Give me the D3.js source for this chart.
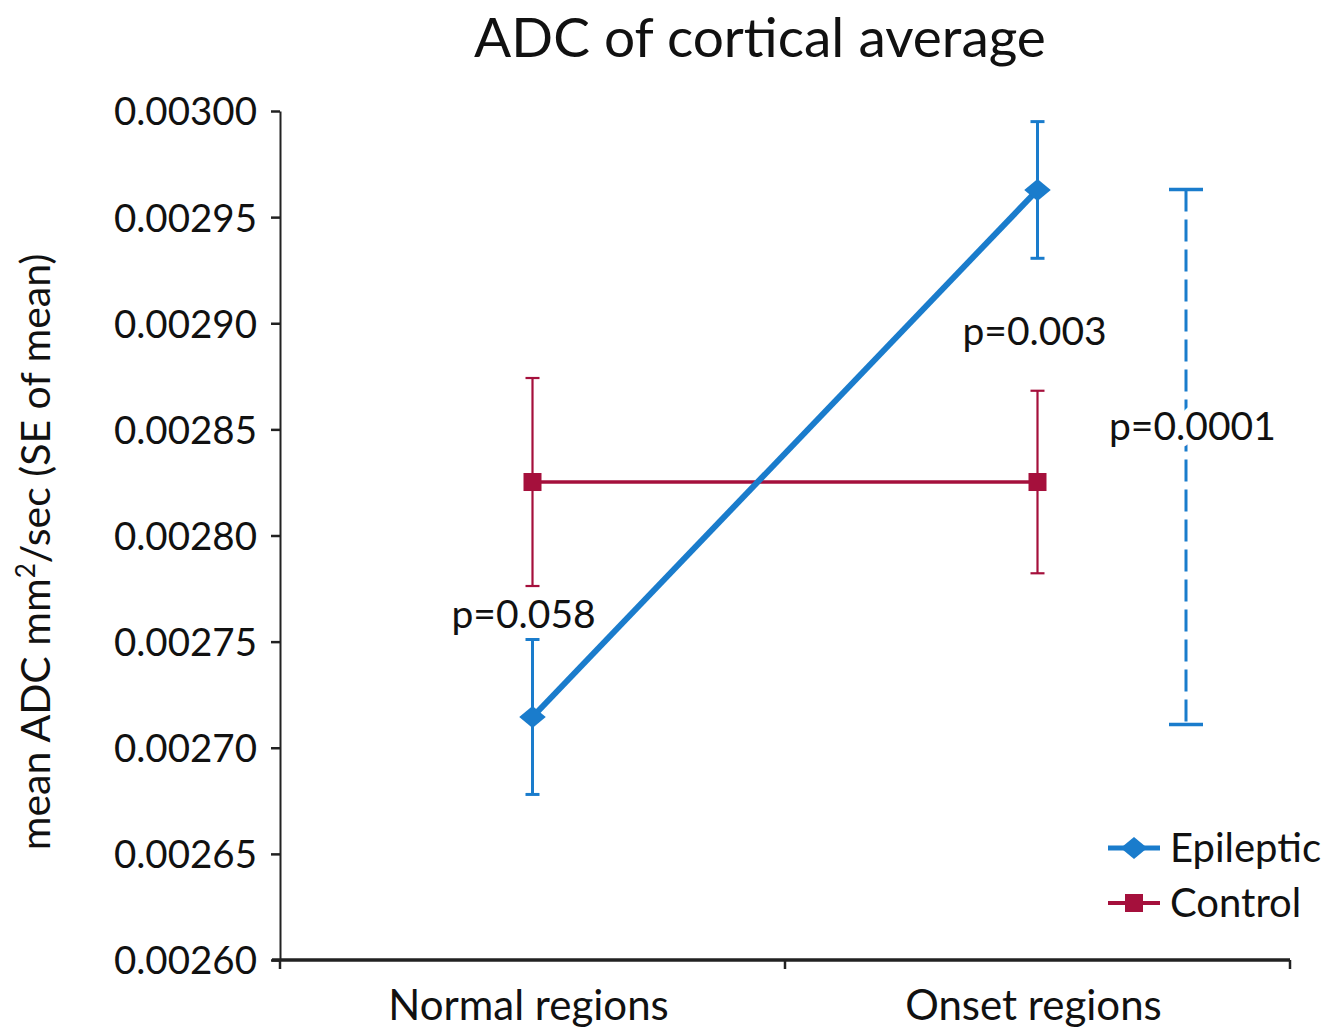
<!DOCTYPE html>
<html>
<head>
<meta charset="utf-8">
<script src="https://cdn.jsdelivr.net/npm/d3@7"></script>
<style>
  body { margin: 0; background: #fff; }
  text { font-family: Lato, "Open Sans", sans-serif; fill: #111; }
</style>
</head>
<body>
<svg id="svgChart" width="1339" height="1033"></svg>
<script>
// data
var categories = ["Normal regions", "Onset regions"];
var epilepticMean = [0.0027145, 0.0029628];
var epilepticSE = [0.0000365, 0.0000322];
var controlMean = [0.0028252, 0.0028252];
var controlSE = [0.0000490, 0.0000430];
var yTicks = [0.0026, 0.00265, 0.0027, 0.00275, 0.0028, 0.00285, 0.0029, 0.00295, 0.003];
var bracketRange = [0.002711, 0.002963];
var pLabels = ["p=0.058", "p=0.003", "p=0.0001"];
var seriesNames = ["Epileptic", "Control"];

var BLUE = "#1a7ccc";
var RED = "#a5103c";

var svg = d3.select("#svgChart");
var margin = {top: 111, right: 49, bottom: 73, left: 280};
var width = +svg.attr("width") - margin.left - margin.right;
var height = +svg.attr("height") - margin.top - margin.bottom;
var g = svg.append("g")
  .attr("transform", "translate(" + margin.left + "," + margin.top + ")");

// scales
var x = d3.scaleBand().domain(categories).range([0, width]);
var y = d3.scaleLinear().domain([0.0026, 0.003]).range([height, 0]);
function cx(i) { return x(categories[i]) + x.bandwidth() / 2; }

// y axis
var yAxis = d3.axisLeft(y).tickValues(yTicks)
  .tickFormat(d3.format(".5f")).tickSize(9).tickSizeOuter(0).tickPadding(14);
var gy = g.append("g").attr("class", "y axis").call(yAxis);
gy.select(".domain").attr("stroke", "#222").attr("stroke-width", 2);
gy.selectAll(".tick line").attr("stroke", "#222").attr("stroke-width", 2.5);
gy.selectAll(".tick text")
  .style("font-family", "Lato, sans-serif")
  .style("font-size", "38.5px").attr("fill", "#111").attr("dy", "0.36em");

// x axis: line with ticks at band edges
var gx = g.append("g").attr("class", "x axis")
  .attr("transform", "translate(0," + height + ")");
gx.append("line").attr("x1", -8).attr("x2", width)
  .attr("stroke", "#222").attr("stroke-width", 3.5);
var edges = categories.map(function(c) { return x(c); }).concat([width]);
gx.selectAll(".xtick").data(edges).enter().append("line")
  .attr("x1", function(d) { return d; }).attr("x2", function(d) { return d; })
  .attr("y1", 0).attr("y2", 9)
  .attr("stroke", "#222").attr("stroke-width", 2.5);
gx.selectAll(".xlabel").data(categories).enter().append("text")
  .attr("x", function(d, i) { return cx(i) - 4; })
  .attr("y", 60)
  .style("text-anchor", "middle")
  .style("font-size", "42px")
  .text(function(d) { return d; });

// title
svg.append("text")
  .attr("x", 760).attr("y", 57)
  .style("text-anchor", "middle").style("font-size", "55px")
  .text("ADC of cortical average");

// y axis label
var ylab = svg.append("text")
  .attr("transform", "translate(50,552) rotate(-90)")
  .style("text-anchor", "middle").style("font-size", "41px");
ylab.append("tspan").text("mean ADC mm");
ylab.append("tspan").attr("dy", -15).style("font-size", "26px").text("2");
ylab.append("tspan").attr("dy", 15).text("/sec (SE of mean)");

// error bars
function errorBars(means, se, color, sw) {
  var eb = g.append("g");
  means.forEach(function(m, i) {
    var px = cx(i);
    eb.append("line").attr("x1", px).attr("x2", px)
      .attr("y1", y(m - se[i])).attr("y2", y(m + se[i]))
      .attr("stroke", color).attr("stroke-width", sw);
    [m - se[i], m + se[i]].forEach(function(v) {
      eb.append("line").attr("x1", px - 7).attr("x2", px + 7)
        .attr("y1", y(v)).attr("y2", y(v))
        .attr("stroke", color).attr("stroke-width", sw);
    });
  });
}

var valueline = d3.line()
  .x(function(d, i) { return cx(i); })
  .y(function(d) { return y(d); });

// control series
errorBars(controlMean, controlSE, RED, 2.2);
g.append("path").attr("fill", "none").attr("stroke", RED)
  .attr("stroke-width", 3.5).attr("d", valueline(controlMean));
g.selectAll(".sq").data(controlMean).enter().append("rect")
  .attr("x", function(d, i) { return cx(i) - 9; })
  .attr("y", function(d) { return y(d) - 9; })
  .attr("width", 18).attr("height", 18).attr("fill", RED);

// epileptic series
errorBars(epilepticMean, epilepticSE, BLUE, 3);
g.append("path").attr("fill", "none").attr("stroke", BLUE)
  .attr("stroke-width", 6).attr("d", valueline(epilepticMean));
var diamond = d3.symbol().type(d3.symbolDiamond2).size(340);
g.selectAll(".dm").data(epilepticMean).enter().append("path")
  .attr("transform", function(d, i) { return "translate(" + cx(i) + "," + y(d) + ") scale(1.15,0.95)"; })
  .attr("d", diamond).attr("fill", BLUE);

// dashed bracket
var bx = width - 104;
var br = g.append("g");
br.append("line").attr("x1", bx).attr("x2", bx)
  .attr("y1", y(bracketRange[1])).attr("y2", y(bracketRange[0]))
  .attr("stroke", BLUE).attr("stroke-width", 3).attr("stroke-dasharray", "22,8");
bracketRange.forEach(function(v) {
  br.append("line").attr("x1", bx - 17).attr("x2", bx + 17)
    .attr("y1", y(v)).attr("y2", y(v))
    .attr("stroke", BLUE).attr("stroke-width", 3.5);
});

// p-value labels
var pPos = [
  {x: cx(0) - 81, y: 628 - margin.top},
  {x: cx(1) - 75, y: 345 - margin.top},
  {x: bx - 77, y: 440 - margin.top}
];
pLabels.forEach(function(t, i) {
  var lbl = g.append("text")
    .attr("x", pPos[i].x).attr("y", pPos[i].y)
    .style("font-size", "39px").text(t);
  if (i === 2) {
    lbl.attr("stroke", "#fff").attr("stroke-width", 14)
      .attr("paint-order", "stroke").attr("stroke-linejoin", "round");
  }
});

// legend
var legend = svg.append("g").attr("transform", "translate(1108,848)");
seriesNames.forEach(function(name, i) {
  var row = legend.append("g").attr("transform", "translate(0," + (i * 55) + ")");
  var col = i === 0 ? BLUE : RED;
  row.append("line").attr("x1", 0).attr("x2", 52)
    .attr("stroke", col).attr("stroke-width", i === 0 ? 5 : 4);
  if (i === 0) {
    row.append("path").attr("d", diamond)
      .attr("transform", "translate(26,0) scale(1.15,0.95)").attr("fill", col);
  } else {
    row.append("rect").attr("x", 17).attr("y", -9).attr("width", 18)
      .attr("height", 18).attr("fill", col);
  }
  row.append("text").attr("x", 62).attr("y", 14)
    .style("font-size", "40px").text(name);
});
</script>
</body>
</html>
